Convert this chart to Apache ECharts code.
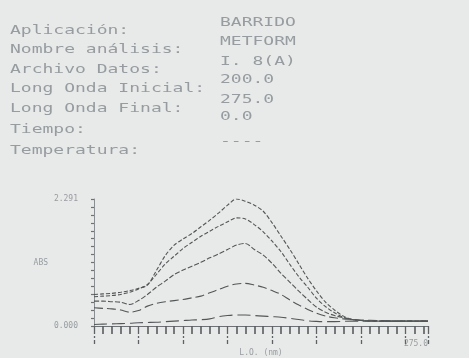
<!DOCTYPE html>
<html>
<head>
<meta charset="utf-8">
<script src="https://cdn.jsdelivr.net/npm/echarts@6/dist/echarts.min.js"></script>
<style>
  html, body { margin: 0; padding: 0; background: #e8eae9; }
  #chart { width: 469px; height: 358px; }
</style>
</head>
<body>
<div id="chart"></div>
<script>
// Header of the scan report
const headerLabels = ['Aplicación:', 'Nombre análisis:', 'Archivo Datos:', 'Long Onda Inicial:', 'Long Onda Final:', 'Tiempo:', 'Temperatura:'];
const headerValues = ['BARRIDO', 'METFORM', 'I. 8(A)', '200.0', '275.0', '0.0', '----'];

// Wavelength (nm) and absorbance of each scanned solution
const wavelengths = [200, 202, 204, 206, 208, 210, 212, 214, 216, 218, 220, 222, 224, 226, 228, 230, 232, 234, 236, 238, 240, 242, 244, 246, 248, 250, 252, 254, 256, 258, 260, 264, 268, 272, 275];
const absA = [0.57, 0.58, 0.59, 0.61, 0.64, 0.68, 0.74, 1.00, 1.27, 1.46, 1.57, 1.67, 1.79, 1.91, 2.04, 2.18, 2.291, 2.25, 2.18, 2.07, 1.86, 1.62, 1.38, 1.12, 0.86, 0.63, 0.43, 0.29, 0.18, 0.12, 0.10, 0.09, 0.09, 0.09, 0.09];
const absB = [0.53, 0.54, 0.55, 0.57, 0.61, 0.67, 0.75, 0.93, 1.12, 1.26, 1.40, 1.51, 1.62, 1.71, 1.80, 1.88, 1.95, 1.93, 1.83, 1.70, 1.53, 1.34, 1.11, 0.89, 0.70, 0.50, 0.35, 0.24, 0.16, 0.12, 0.10, 0.09, 0.09, 0.09, 0.09];
const absC = [0.45, 0.45, 0.44, 0.43, 0.39, 0.46, 0.57, 0.70, 0.81, 0.93, 1.01, 1.08, 1.15, 1.23, 1.30, 1.38, 1.46, 1.49, 1.38, 1.28, 1.13, 0.95, 0.79, 0.63, 0.48, 0.34, 0.25, 0.19, 0.15, 0.12, 0.10, 0.09, 0.09, 0.09, 0.09];
const absD = [0.33, 0.32, 0.31, 0.29, 0.25, 0.28, 0.36, 0.41, 0.44, 0.46, 0.48, 0.51, 0.54, 0.60, 0.66, 0.72, 0.76, 0.77, 0.74, 0.70, 0.64, 0.57, 0.47, 0.38, 0.30, 0.23, 0.18, 0.15, 0.13, 0.12, 0.11, 0.10, 0.09, 0.09, 0.09];
const absE = [0.03, 0.035, 0.04, 0.045, 0.05, 0.06, 0.065, 0.07, 0.08, 0.09, 0.10, 0.11, 0.115, 0.13, 0.17, 0.19, 0.20, 0.20, 0.19, 0.18, 0.17, 0.16, 0.14, 0.12, 0.095, 0.085, 0.08, 0.08, 0.085, 0.09, 0.09, 0.09, 0.09, 0.09, 0.09];

// Axis ranges, tick steps and labels
const xMin = 200, xMax = 275;
const xMajorStep = 10, xMinorSplit = 5;
const yMin = 0, yMax = 2.291;
const xEndLabel = 275;
const yLabelValues = [0, 2.291];
const yTickCount = 16;

const yTicks = [];
for (let i = 0; i <= yTickCount; i++) yTicks.push(yMax * i / yTickCount);

const ink = '#535657';
const faded = '#979ca0';
const headerFont = '12px "DejaVu Sans Mono", monospace';

const labelY = [31, 50, 70, 89, 109, 130, 151];
const valueY = [23, 42, 62, 80, 100, 117, 142];

const graphics = [];
headerLabels.forEach((t, i) => {
  graphics.push({ type: 'text', x: 10, y: labelY[i], scaleX: 1.5, silent: true,
    style: { text: t, font: headerFont, fill: faded, verticalAlign: 'middle' } });
});
headerValues.forEach((t, i) => {
  graphics.push({ type: 'text', x: 220, y: valueY[i], scaleX: 1.5, silent: true,
    style: { text: t, font: headerFont, fill: faded, verticalAlign: 'middle' } });
});

function curve(values, dash) {
  return {
    type: 'line',
    data: wavelengths.map((w, i) => [w, values[i]]),
    showSymbol: false,
    smooth: 0.3,
    silent: true,
    lineStyle: { color: ink, width: 1.1, type: dash }
  };
}

const chart = echarts.init(document.getElementById('chart'), null, { renderer: 'canvas' });
chart.setOption({
  backgroundColor: '#e8eae9',
  animation: false,
  graphic: graphics,
  grid: { left: 94, top: 199, width: 334, height: 137, containLabel: false },
  xAxis: {
    type: 'value', min: xMin, max: xMax, interval: xMajorStep,
    axisLine: { show: true, lineStyle: { color: '#6e7274', width: 1 } },
    axisTick: { show: true, length: 18, lineStyle: { color: '#5e6264', width: 1.3, type: [8, 2, 2, 2] } },
    minorTick: { show: true, splitNumber: xMinorSplit, length: 8, lineStyle: { color: '#585c5e', width: 1.6 } },
    axisLabel: {
      show: true, margin: 14, align: 'right', showMinLabel: false, showMaxLabel: true,
      color: faded, fontSize: 8, fontFamily: 'DejaVu Sans Mono',
      formatter: v => (v === xEndLabel ? v.toFixed(1) : '')
    },
    splitLine: { show: false },
    name: 'L.O. (nm)', nameLocation: 'middle', nameGap: 19,
    nameTextStyle: { color: faded, fontSize: 8, fontFamily: 'DejaVu Sans Mono' }
  },
  yAxis: {
    type: 'value', min: yMin, max: yMax,
    axisLine: { show: true, lineStyle: { color: '#8a8e90', width: 1 } },
    axisTick: { show: true, inside: false, length: 3, customValues: yTicks, lineStyle: { color: '#6e7274', width: 1.2 } },
    axisLabel: {
      show: true, customValues: yLabelValues, margin: 16,
      color: faded, fontSize: 8, fontFamily: 'DejaVu Sans Mono',
      formatter: v => v.toFixed(3)
    },
    splitLine: { show: false },
    name: 'ABS', nameLocation: 'middle', nameGap: 21, nameRotate: 0,
    nameTextStyle: { color: faded, fontSize: 8, fontFamily: 'DejaVu Sans Mono' }
  },
  series: [
    curve(absA, [4, 2]),
    curve(absB, [4, 2]),
    curve(absC, [5, 2]),
    curve(absD, [9, 4]),
    curve(absE, [13, 5])
  ]
});
</script>
</body>
</html>
